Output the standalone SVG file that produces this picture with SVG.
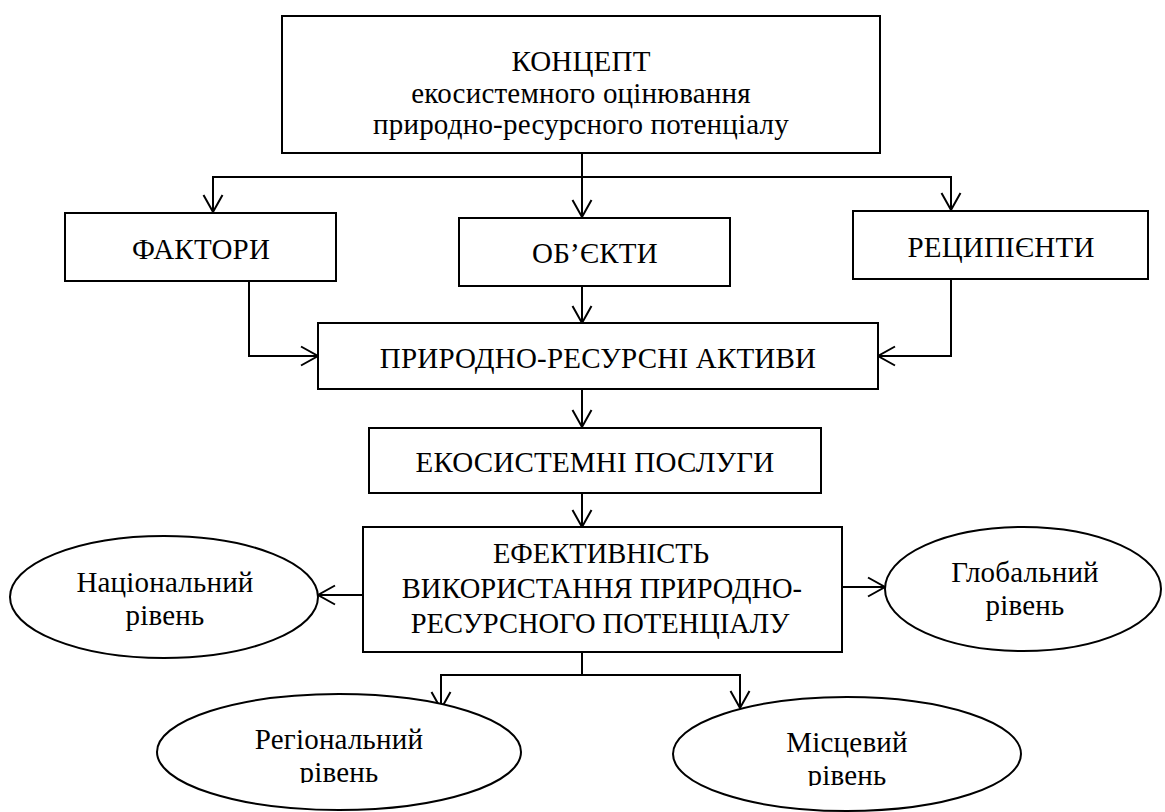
<svg xmlns="http://www.w3.org/2000/svg" width="1165" height="812" viewBox="0 0 1165 812">
<style>
.box{fill:#fff;stroke:#000;stroke-width:2}
.t{font-family:'Liberation Serif','Times New Roman',serif;font-size:29px;letter-spacing:0.2px;fill:#000;text-anchor:middle}
.e{font-size:28.5px;letter-spacing:0}
.c{fill:none;stroke:#000;stroke-width:2}
</style>
<defs>
<marker id="arr" markerUnits="userSpaceOnUse" markerWidth="22" markerHeight="24" viewBox="-19 -12 22 24" refX="0" refY="0" orient="auto">
<path d="M-17,-9.5 L0,0 L-17,9.5" fill="none" stroke="#000" stroke-width="2"/>
</marker>
<clipPath id="clipL"><rect x="0" y="0" width="1165" height="783"/></clipPath>
<clipPath id="clipR"><rect x="0" y="0" width="1165" height="786"/></clipPath>
</defs>
<rect width="1165" height="812" fill="#fff"/>

<g id="connectors">
<path class="c" d="M582,153 V217" marker-end="url(#arr)"/>
<path class="c" d="M582,177 H213 V212" marker-end="url(#arr)"/>
<path class="c" d="M582,177 H951 V210" marker-end="url(#arr)"/>
<path class="c" d="M249,281 V356 H318" marker-end="url(#arr)"/>
<path class="c" d="M582,286 V323" marker-end="url(#arr)"/>
<path class="c" d="M951,279 V356 H878" marker-end="url(#arr)"/>
<path class="c" d="M582,389 V427" marker-end="url(#arr)"/>
<path class="c" d="M582,493 V527" marker-end="url(#arr)"/>
<path class="c" d="M363,595 H318" marker-end="url(#arr)"/>
<path class="c" d="M842,587 H885" marker-end="url(#arr)"/>
<path class="c" d="M582,652 V675 H441 V709" marker-end="url(#arr)"/>
<path class="c" d="M582,675 H740 V708" marker-end="url(#arr)"/>
</g>

<g id="concept">
<rect class="box" x="282" y="16" width="598" height="137"/>
<text class="t" x="581" y="71">КОНЦЕПТ</text>
<text class="t" x="581" y="103">екосистемного оцінювання</text>
<text class="t" x="581" y="134">природно-ресурсного потенціалу</text>
</g>

<g id="factors">
<rect class="box" x="65" y="213" width="271" height="68"/>
<text class="t" x="201" y="258.5">ФАКТОРИ</text>
</g>

<g id="objects">
<rect class="box" x="459" y="218" width="271" height="68"/>
<text class="t" x="595" y="263">ОБ’ЄКТИ</text>
</g>

<g id="recipients">
<rect class="box" x="853" y="211" width="295" height="68"/>
<text class="t" x="1001" y="256.5">РЕЦИПІЄНТИ</text>
</g>

<g id="assets">
<rect class="box" x="318" y="323" width="560" height="66"/>
<text class="t" x="598" y="368">ПРИРОДНО-РЕСУРСНІ АКТИВИ</text>
</g>

<g id="services">
<rect class="box" x="369" y="428" width="452" height="65"/>
<text class="t" x="595" y="471.5">ЕКОСИСТЕМНІ ПОСЛУГИ</text>
</g>

<g id="efficiency">
<rect class="box" x="363" y="527" width="479" height="125"/>
<text class="t e" x="601" y="563">ЕФЕКТИВНІСТЬ</text>
<text class="t e" x="602" y="598">ВИКОРИСТАННЯ ПРИРОДНО-</text>
<text class="t e" x="600" y="633">РЕСУРСНОГО ПОТЕНЦІАЛУ</text>
</g>

<g id="national">
<ellipse class="box" cx="164" cy="597" rx="154" ry="61"/>
<text class="t" x="165" y="592">Національний</text>
<text class="t" x="165" y="625">рівень</text>
</g>

<g id="global">
<ellipse class="box" cx="1023" cy="589" rx="138" ry="62"/>
<text class="t" x="1025" y="582">Глобальний</text>
<text class="t" x="1025" y="615">рівень</text>
</g>

<g id="regional">
<ellipse class="box" cx="339" cy="752" rx="182" ry="58"/>
<g clip-path="url(#clipL)">
<text class="t" x="339" y="749">Регіональний</text>
<text class="t" x="339" y="782">рівень</text>
</g>
</g>

<g id="local">
<ellipse class="box" cx="847" cy="754" rx="174" ry="57"/>
<g clip-path="url(#clipR)">
<text class="t" x="847" y="752">Місцевий</text>
<text class="t" x="847" y="785">рівень</text>
</g>
</g>
</svg>
